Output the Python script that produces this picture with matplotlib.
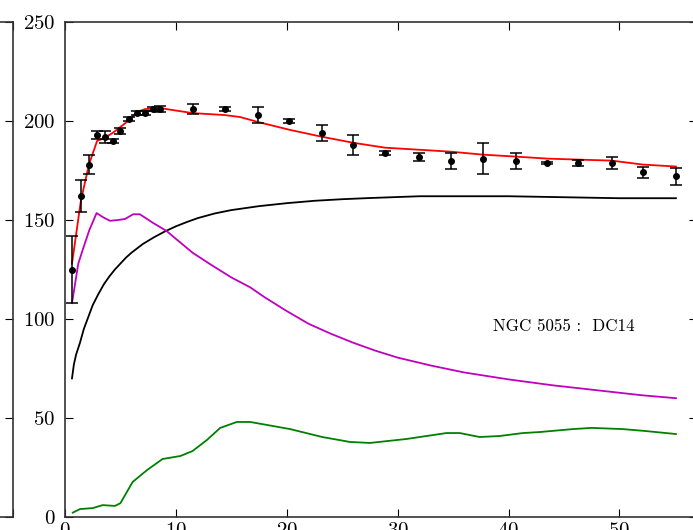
import matplotlib
matplotlib.use("Agg")
import matplotlib.pyplot as plt
import numpy as np

plt.rcParams['font.family'] = 'serif'
plt.rcParams['font.serif'] = ['cmr10', 'DejaVu Serif']
plt.rcParams['mathtext.fontset'] = 'cm'
plt.rcParams['axes.formatter.use_mathtext'] = True

# observed rotation curve
r_obs = [0.63, 1.44, 2.16, 2.9, 3.6, 4.3, 5.0, 5.8, 6.5, 7.2, 7.9, 8.6,
         11.5, 14.4, 17.4, 20.2, 23.2, 26.0, 28.9, 31.9, 34.8, 37.7,
         40.7, 43.5, 46.3, 49.3, 52.1, 55.1]
v_obs = [125, 162, 178, 193, 192, 190, 195, 201, 204, 204, 206, 206,
         206, 206, 203, 200, 194, 188, 184, 182, 180, 181,
         180, 179, 179, 179, 174, 172]
v_err = [17, 8, 5, 2, 3, 1, 1.5, 1, 1, 1, 1, 1.5,
         2.5, 1, 4, 1, 4, 5, 1, 2, 4, 8,
         4, 0.5, 1.5, 3, 3, 4.5]

# total fit (red)
r_tot = [0.63, 1.44, 2.16, 2.9, 3.6, 4.3, 5.0, 5.8, 6.5, 7.2, 8.6, 11.5,
         14.4, 15.8, 17.4, 20.3, 23.2, 26.0, 28.9, 31.9, 34.8, 37.7,
         40.7, 43.5, 46.3, 49.3, 52.1, 55.1]
v_tot = [128, 160, 178, 190, 191.5, 194, 197, 200.5, 204.5, 206, 206.5, 204,
         203, 202, 199.5, 195.5, 192, 189, 186.5, 185.5, 184.5, 183,
         182, 181, 180.5, 180, 178, 177]

# dark matter halo (black)
r_dm = [0.63, 0.8, 1.0, 1.35, 1.7, 2.0, 2.5, 3.0, 3.5, 4.0, 4.5, 5.0, 5.5,
        6.0, 7.0, 8.0, 9.0, 10.0, 11.0, 12.0, 13.5, 15.0, 17.5, 20.0,
        22.5, 25.0, 27.5, 30.0, 32.0, 36.0, 40.0, 45.0, 50.0, 55.1]
v_dm = [70, 77, 82, 88, 95, 99.5, 107, 112.5, 117.5, 121.5, 125, 128, 131,
        133.5, 137.8, 141.2, 144.2, 146.8, 149, 151, 153.3, 155, 157, 158.5,
        159.7, 160.5, 161.1, 161.6, 162, 162, 162, 161.5, 161, 161]

# stellar disk (magenta)
r_st = [0.63, 1.2, 1.6, 2.2, 2.85, 3.4, 4.05, 4.8, 5.4, 6.15, 6.75, 7.95,
        9.15, 10.0, 11.5, 13.0, 15.0, 16.7, 18.0, 20.0, 22.0, 24.0, 26.0,
        28.0, 30.0, 33.0, 36.0, 40.0, 44.0, 48.0, 52.0, 55.1]
v_st = [108, 128, 135, 145, 153.5, 151.5, 149.6, 150, 150.5, 152.9, 152.9, 148.5,
        144.5, 140.5, 133.5, 128, 121, 116, 111, 104, 97.5, 92.5, 88, 84,
        80.5, 76.5, 73, 69.5, 66.5, 64, 61.5, 60]

# gas (green)
r_gas = [0.7, 1.35, 2.5, 3.4, 4.5, 5.0, 6.1, 7.4, 8.8, 10.4, 11.5, 12.8,
         14.0, 15.5, 16.7, 20.3, 23.2, 25.7, 27.5, 30.8, 34.4, 35.6, 37.4,
         39.2, 41.3, 42.8, 45.8, 47.5, 50.3, 52.4, 55.1]
v_gas = [2.2, 4, 4.5, 6, 5.6, 7, 17.7, 23.7, 29.3, 30.8, 33.3, 38.9,
         45, 48, 48, 44.4, 40.4, 37.9, 37.4, 39.4, 42.4, 42.4, 40.4,
         40.9, 42.4, 42.9, 44.4, 45, 44.4, 43.4, 41.9]

label = r'NGC 5055 :  DC14'

fig = plt.figure(figsize=(6.93, 5.30), dpi=100)

# neighbouring panel, only its right edge is visible
ax0 = fig.add_axes([-0.9, 13/530, 0.9 + 13/693, (517-22)/530])
ax0.set_ylim(0, 250)
ax0.set_yticks([0, 50, 100, 150, 200, 250])
ax0.tick_params(direction='in', length=6, right=True, top=True,
                labelleft=False, labelbottom=False)

ax = fig.add_axes([65/693, 13/530, 632/693, (517-22)/530])
ax.plot(r_dm, v_dm, color='k', lw=1.3)
ax.plot(r_st, v_st, color='m', lw=1.3)
ax.plot(r_gas, v_gas, color='g', lw=1.3)
ax.plot(r_tot, v_tot, color='r', lw=1.3)
ax.errorbar(r_obs, v_obs, yerr=v_err, fmt='o', color='k', ms=4,
            capsize=4, elinewidth=1.1, capthick=1.1)
ax.text(38.6, 96.5, label, fontsize=12.2, ha='left', va='center')

ax.set_xlim(0, 57)
ax.set_ylim(0, 250)
ax.set_xticks([0, 10, 20, 30, 40, 50])
ax.set_yticks([0, 50, 100, 150, 200, 250])
ax.tick_params(direction='in', length=6, right=True, top=True, labelsize=15)
ax.tick_params(axis='y', pad=7)
for a in (ax, ax0):
    for s in a.spines.values():
        s.set_color('#333333')
        s.set_linewidth(1.2)

fig.savefig('out.png', dpi=100)
